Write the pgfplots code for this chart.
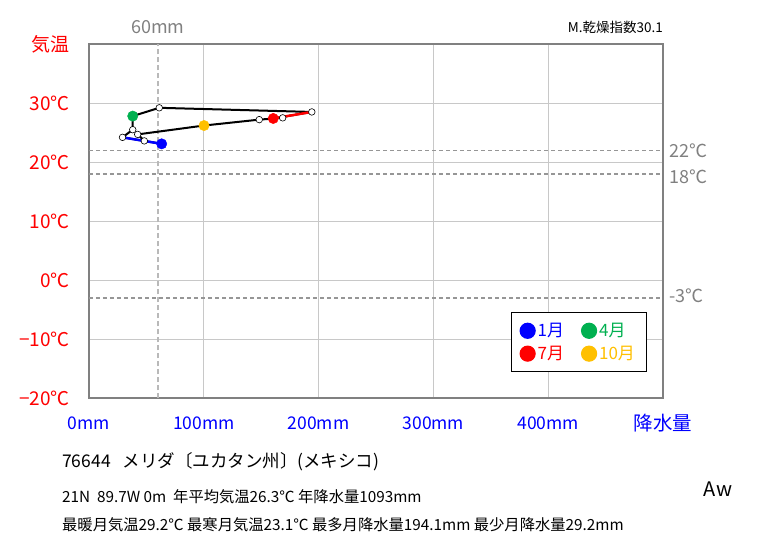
\documentclass[border=0pt]{standalone}
\usepackage{fontspec}
\setmainfont{Noto Sans CJK JP}
\usepackage{pgfplots}
\usepackage{pgfplotstable}
\pgfplotsset{compat=1.18}
\definecolor{tred}{RGB}{255,0,0}
\definecolor{pblue}{RGB}{0,0,255}
\definecolor{mgreen}{RGB}{0,176,80}
\definecolor{morange}{RGB}{255,192,0}
\definecolor{axgray}{RGB}{128,128,128}
\definecolor{gridgray}{RGB}{200,200,200}
\definecolor{refgray}{RGB}{150,150,150}
\definecolor{labgray}{RGB}{128,128,128}
\definecolor{sixtygray}{RGB}{185,185,185}

% month, precipitation (mm), temperature (C); loop closed back to January
\pgfplotstableread{
M P T
1 63.3 23.1
2 29.2 24.2
3 38.1 25.5
4 38.1 27.8
5 61.2 29.2
6 194.1 28.5
7 160.5 27.4
8 168.7 27.5
9 148.3 27.2
10 100.2 26.2
11 42.4 24.7
12 48.2 23.6
13 63.3 23.1
}\loopdata

\pgfplotstableread{
P T
29.2 24.2
38.1 25.5
61.2 29.2
194.1 28.5
168.7 27.5
148.3 27.2
42.4 24.7
48.2 23.6
}\whitedata

\begin{document}
\begin{tikzpicture}[x=1pt,y=1pt]
\begin{axis}[
  name=ax,
  at={(0,0)}, anchor=south west,
  width=574pt, height=354.5pt, scale only axis,
  xmin=0, xmax=500, ymin=-20, ymax=40,
  xtick={0,100,200,300,400,500},
  xticklabels={0mm,100mm,200mm,300mm,400mm,{\fontsize{19.5}{22}\selectfont 降水量}},
  ytick={-20,-10,0,10,20,30,40},
  yticklabels={−20℃,−10℃,0℃,10℃,20℃,30℃,},
  major tick length=0pt,
  xticklabel style={text=pblue, font=\fontsize{17.5}{22}\selectfont, anchor=center, inner sep=0pt, yshift=-25pt},
  yticklabel style={text=tred, font=\fontsize{19}{22}\selectfont, anchor=east, inner sep=0pt, xshift=-19pt},
  grid=major, grid style={gridgray, line width=1pt},
  axis line style={axgray, line width=2pt},
  clip=false,
  legend columns=2,
  legend cell align=left,
  legend image code/.code={\draw[#1, mark size=7.5pt] plot coordinates {(0pt,0pt)};},
  legend style={at={(axis cs:367.2,-5.4)}, anchor=north west, draw=black, line width=1.2pt,
    font=\fontsize{17}{20}\selectfont, inner xsep=9pt, inner ysep=9pt, row sep=5pt,
    nodes={inner xsep=2.5pt, inner ysep=1.5pt},
    /tikz/every even column/.append style={column sep=15pt}},
]
% reference lines
\draw[refgray, dash pattern=on 4pt off 3pt, line width=1.5pt] (axis cs:0,22) -- (axis cs:500,22);
\draw[refgray, dash pattern=on 4pt off 3pt, line width=1.5pt] (axis cs:0,18) -- (axis cs:500,18);
\draw[refgray, dash pattern=on 4pt off 3pt, line width=1.5pt] (axis cs:0,-3) -- (axis cs:500,-3);
\draw[sixtygray, dash pattern=on 5pt off 3pt, line width=1.8pt] (axis cs:60,-20) -- (axis cs:60,40);
\node[labgray, anchor=west, inner sep=0pt, font=\fontsize{18}{21}\selectfont] at ([xshift=6pt]axis cs:500,22) {22℃};
\node[labgray, anchor=west, inner sep=0pt, font=\fontsize{18}{21}\selectfont] at ([xshift=6pt,yshift=-3pt]axis cs:500,18) {18℃};
\node[labgray, anchor=west, inner sep=0pt, font=\fontsize{18}{21}\selectfont] at ([xshift=6pt,yshift=2pt]axis cs:500,-3) {-3℃};
\node[labgray, inner sep=0pt, font=\fontsize{18}{21}\selectfont] at ([yshift=17pt]axis cs:60,40) {60mm};
% hythergraph loop
\addplot[black, line width=2pt, forget plot] table[x=P, y=T] {\loopdata};
\addplot[pblue, line width=2.5pt, forget plot] coordinates {(63.3,23.1) (29.2,24.2)};
\addplot[tred, line width=2.5pt, forget plot] coordinates {(160.5,27.4) (194.1,28.5)};
\addplot[only marks, mark=*, mark size=3.3pt, mark options={fill=white, draw=black, line width=0.6pt}, forget plot] table[x=P, y=T] {\whitedata};
\addplot[only marks, mark=*, mark size=5.2pt, color=pblue] coordinates {(63.3,23.1)};
\addlegendentry{\textcolor{pblue}{1月}}
\addplot[only marks, mark=*, mark size=5.2pt, color=mgreen] coordinates {(38.1,27.8)};
\addlegendentry{\textcolor{mgreen}{4月}}
\addplot[only marks, mark=*, mark size=5.2pt, color=tred] coordinates {(160.5,27.4)};
\addlegendentry{\textcolor{tred}{7月}}
\addplot[only marks, mark=*, mark size=5.2pt, color=morange] coordinates {(100.2,26.2)};
\addlegendentry{\textcolor{morange}{10月}}
\end{axis}
\pgfresetboundingbox
\begin{scope}[shift={(ax.south west)}]
\begin{scope}[xshift=-89pt, yshift=-146.5pt]
\path[use as bounding box] (0,0) rectangle (763,545);
\node[tred, inner sep=0pt, font=\fontsize{19}{22}\selectfont] at (51,501) {気温};
\node[anchor=east, inner sep=0pt, font=\fontsize{13.5}{15}\selectfont] at (663,518) {M.乾燥指数30.1};
\node[anchor=west, inner sep=0pt, font=\fontsize{17.5}{20}\selectfont] at (62,83) {76644\ \ \ メリダ〔ユカタン州〕(メキシコ)};
\node[anchor=west, inner sep=0pt, font=\fontsize{15.3}{18}\selectfont] at (62,48) {21N\ \ 89.7W 0m\ \ 年平均気温26.3℃ 年降水量1093mm};
\node[anchor=west, inner sep=0pt, font=\fontsize{15.3}{18}\selectfont] at (62,20) {最暖月気温29.2℃ 最寒月気温23.1℃ 最多月降水量194.1mm 最少月降水量29.2mm};
\node[inner sep=0pt, font=\fontsize{20}{23}\selectfont] at (718,56) {Aw};
\end{scope}
\end{scope}
\end{tikzpicture}
\end{document}
